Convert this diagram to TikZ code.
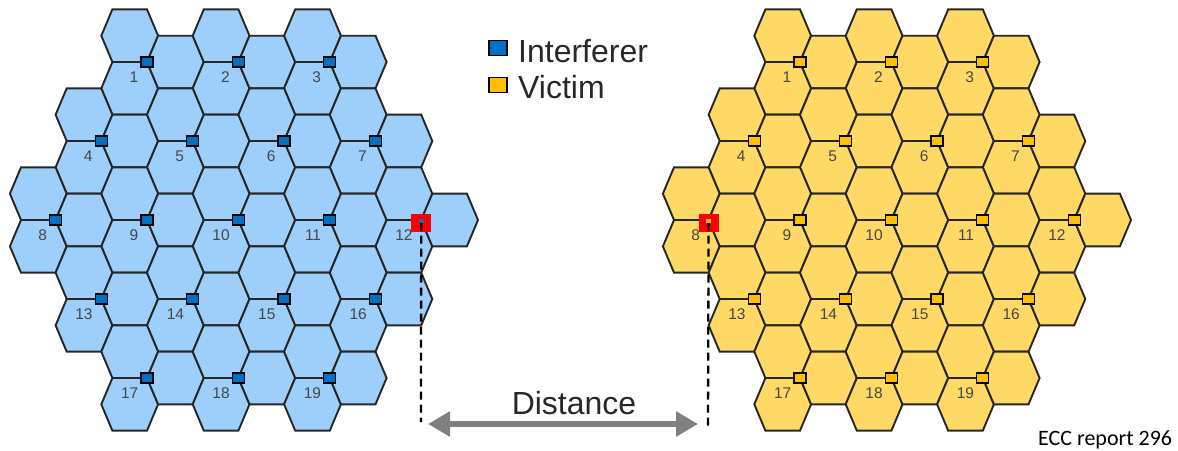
\documentclass[tikz,border=0pt]{standalone}
\usepackage{fontspec}
\setmainfont{Liberation Sans}
\newfontfamily\calibrifont{Carlito}
\usetikzlibrary{arrows.meta,calc}
\definecolor{cellblue}{RGB}{157,207,250}
\definecolor{cellyellow}{RGB}{255,217,102}
\definecolor{siteblue}{RGB}{0,112,192}
\definecolor{siteyellow}{RGB}{255,192,0}
\definecolor{labelgray}{RGB}{70,70,70}
\definecolor{arrowgray}{RGB}{128,128,128}
\definecolor{textdark}{RGB}{40,40,40}

% #1 x offset, #2 column i, #3 half-row j, #4 fill colour
\newcommand{\hexcell}[4]{%
  \pgfmathsetmacro{\hcx}{#1+38.3+45.7*(#2)}%
  \pgfmathsetmacro{\hcy}{35.7+26.33*(#3)}%
  \draw[hexline, fill=#4] (\hcx-28.4,\hcy) -- (\hcx-17.3,\hcy-26.33) -- (\hcx+17.3,\hcy-26.33)
    -- (\hcx+28.4,\hcy) -- (\hcx+17.3,\hcy+26.33) -- (\hcx-17.3,\hcy+26.33) -- cycle;
}
% #1 x offset, #2 cell colour, #3 site colour, #4 name prefix
\newcommand{\drawgrid}[4]{%
  \foreach \i/\j in {2/2,4/2,6/2,1/5,3/5,5/5,7/5,0/8,2/8,4/8,6/8,8/8,1/11,3/11,5/11,7/11,2/14,4/14,6/14}{%
    \hexcell{#1}{\i}{\j}{#2}
    \hexcell{#1}{\i}{\j-2}{#2}
    \hexcell{#1}{\i+1}{\j-1}{#2}
  }
  \foreach \i/\j/\n in {2/2/1,4/2/2,6/2/3,1/5/4,3/5/5,5/5/6,7/5/7,0/8/8,2/8/9,4/8/10,6/8/11,8/8/12,1/11/13,3/11/14,5/11/15,7/11/16,2/14/17,4/14/18,6/14/19}{%
    \pgfmathsetmacro{\sx}{#1+38.3+45.7*\i+17.3}
    \pgfmathsetmacro{\sy}{35.7+26.33*(\j-1)}
    \node[sitebox, fill=#3] (#4\n) at (\sx,\sy) {};
    \node[numlabel] (#4lab\n) at ($(#4\n)+(-8.5,15)$) {\n};
  }
}

\begin{document}
\begin{tikzpicture}[x=1pt,y=-1pt,
  hexline/.style={draw=black!85, line width=1.9pt},
  sitebox/.style={draw=black, line width=1.3pt, minimum width=12pt, minimum height=10pt, inner sep=0pt},
  redbox/.style={fill=red, minimum width=20pt, minimum height=18pt, inner sep=0pt},
  innerbox/.style={minimum width=5pt, minimum height=4pt, inner sep=0pt},
  numlabel/.style={font=\fontsize{15.5}{15.5}\selectfont, text=labelgray, anchor=east, inner sep=0pt},
  legendbox/.style={draw=black, line width=1.5pt, minimum width=18pt, minimum height=15pt, inner sep=0pt},
  legendtext/.style={font=\fontsize{32}{32}\selectfont, text=textdark, anchor=base west, inner sep=0pt},
  dashline/.style={black, line width=2.3pt, dash pattern=on 8pt off 5pt},
  distarrow/.style={arrowgray, line width=6pt, {Triangle[length=22pt,width=24pt]}-{Triangle[length=22pt,width=24pt]}}
]
\useasboundingbox (0,0) rectangle (1178,450);

% interferer grid (left) and victim grid (right)
\drawgrid{0}{cellblue}{siteblue}{s}
\drawgrid{653}{cellyellow}{siteyellow}{v}

% highlighted sites and distance markers
\node[redbox] (redL) at ($(s12)+(0,2.5)$) {};
\node[redbox] (redR) at ($(v8)+(0,2.5)$) {};
\coordinate (dashL) at (421,422);
\coordinate (dashR) at (708,428);
\draw[dashline] (redL.center) -- (dashL);
\draw[dashline] (redR.center) -- (dashR);
\node[innerbox, fill=siteblue] (inL) at ($(s12)+(0,1)$) {};
\node[innerbox, fill=siteyellow] (inR) at ($(v8)+(0,1)$) {};

% legend
\node[legendbox, fill=siteblue] (legI) at (498,48) {};
\node[legendtext] (legIt) at (518,62) {Interferer};
\node[legendbox, fill=siteyellow] (legV) at (498,85) {};
\node[legendtext] (legVt) at (518,98) {Victim};

% distance arrow
\coordinate (arrL) at (428,424);
\coordinate (arrR) at (698,424);
\draw[distarrow] (arrL) -- (arrR);
\node[font=\fontsize{32}{32}\selectfont, text=textdark, inner sep=0pt] (dist) at (574,403) {Distance};

% source
\node[font=\calibrifont\fontsize{22}{22}\selectfont, anchor=base west, inner sep=0pt] (src) at (1038,445) {ECC report 296};
\end{tikzpicture}
\end{document}
